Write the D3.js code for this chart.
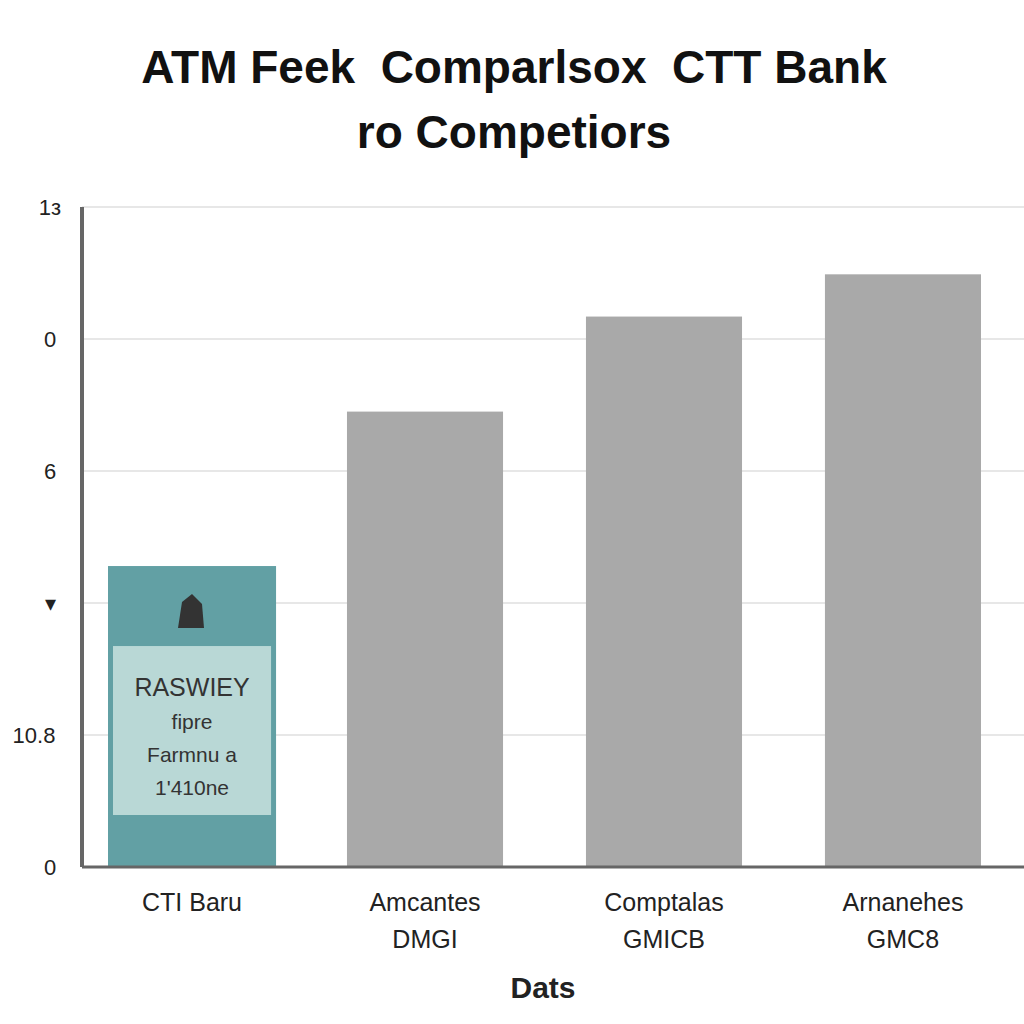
<!DOCTYPE html>
<html>
<head>
<meta charset="utf-8">
<script src="https://cdn.jsdelivr.net/npm/d3@7"></script>
<style>
  body { margin: 0; background: #fff; }
  text { font-family: "Liberation Sans", Arial, sans-serif; white-space: pre; }
</style>
</head>
<body>
<div id="chart"></div>
<script>
const titleLines = ["ATM Feek  Comparlsox  CTT Bank", "ro Competiors"];
const categories = ["CTI Baru", "Amcantes", "Comptalas", "Arnanehes"];
const subLabels = ["", "DMGI", "GMICB", "GMC8"];
const values = [2.28, 3.45, 4.17, 4.49];
const tickValues = [0, 1, 2, 3, 4, 5];
const tickLabels = ["0", "10.8", "\u25BE", "6", "0", "1з"];
const highlightLines = ["RASWIEY", "fipre", "Farmnu a", "1'410ne"];
const xTitle = "Dats";

const W = 1024, H = 1024;
const MARGIN = { TOP: 207, BOTTOM: 157, LEFT: 82, RIGHT: 0 };
const h = H - MARGIN.TOP - MARGIN.BOTTOM;
const GRAY = "#a9a9a9", TEAL = "#62a0a4", LIGHT = "#b9d8d6";

const svg = d3.select("#chart").append("svg").attr("width", W).attr("height", H);

svg.selectAll(".title").data(titleLines).join("text")
  .attr("x", 514).attr("y", (d, i) => 83 + i * 65)
  .attr("text-anchor", "middle").attr("font-size", 46).attr("font-weight", "bold")
  .attr("fill", "#111").text(d => d);

const g = svg.append("g").attr("transform", `translate(0, ${MARGIN.TOP})`);

const yScale = d3.scaleLinear().domain([0, 5]).range([h, 0]);
const xScale = d3.scaleBand().domain(categories).range([108, 981]).paddingInner(0.347).paddingOuter(0);

// grid
g.selectAll(".grid").data(tickValues).join("line")
  .attr("x1", MARGIN.LEFT).attr("x2", W)
  .attr("y1", d => yScale(d)).attr("y2", d => yScale(d))
  .attr("stroke", "#d0d0d0").attr("stroke-width", 1.2);

// y tick labels
g.selectAll(".ytick").data(tickValues).join("text")
  .attr("x", d => d === 1 ? 34 : 50).attr("y", d => yScale(d) + 8)
  .attr("text-anchor", "middle").attr("font-size", 22).attr("fill", "#222")
  .text((d, i) => tickLabels[i]);

// bars
const bw = xScale.bandwidth();
g.selectAll(".bar").data(categories).join("rect")
  .attr("x", d => xScale(d)).attr("width", (d, i) => i === 0 ? bw + 12 : bw)
  .attr("y", (d, i) => yScale(values[i])).attr("height", (d, i) => h - yScale(values[i]))
  .attr("fill", (d, i) => i === 0 ? TEAL : GRAY);

// highlighted first bar detail
const x0 = xScale(categories[0]), w0 = bw + 12;
const top0 = yScale(values[0]);
g.append("rect").attr("x", x0 + 5).attr("width", w0 - 10)
  .attr("y", top0 + 80).attr("height", h - top0 - 80 - 52).attr("fill", LIGHT);
g.append("rect").attr("x", x0 + 5).attr("width", w0 - 10)
  .attr("y", h - 52).attr("height", 48).attr("fill", TEAL);
g.append("path")
  .attr("d", `M${x0 + 70},${top0 + 62} l4,-26 l10,-8 l10,10 l2,24 z`)
  .attr("fill", "#333");
g.selectAll(".hl").data(highlightLines).join("text")
  .attr("x", x0 + w0 / 2).attr("y", (d, i) => top0 + 130 + i * 33)
  .attr("text-anchor", "middle").attr("font-size", (d, i) => i === 0 ? 25 : 21)
  .attr("fill", "#333").text(d => d);

// axes lines
g.append("line").attr("x1", MARGIN.LEFT).attr("x2", MARGIN.LEFT).attr("y1", 0).attr("y2", h)
  .attr("stroke", "#666").attr("stroke-width", 4);
g.append("line").attr("x1", MARGIN.LEFT).attr("x2", W).attr("y1", h).attr("y2", h)
  .attr("stroke", "#666").attr("stroke-width", 3);

// x labels
g.selectAll(".xl").data(categories).join("text")
  .attr("x", (d, i) => xScale(d) + (i === 0 ? w0 : bw) / 2).attr("y", h + 44)
  .attr("text-anchor", "middle").attr("font-size", 25).attr("fill", "#222").text(d => d);
g.selectAll(".xl2").data(subLabels).join("text")
  .attr("x", (d, i) => xScale(categories[i]) + bw / 2).attr("y", h + 81)
  .attr("text-anchor", "middle").attr("font-size", 25).attr("fill", "#222").text(d => d);

svg.append("text").attr("x", 543).attr("y", 998).attr("text-anchor", "middle")
  .attr("font-size", 30).attr("font-weight", "bold").attr("fill", "#222").text(xTitle);
</script>
</body>
</html>
